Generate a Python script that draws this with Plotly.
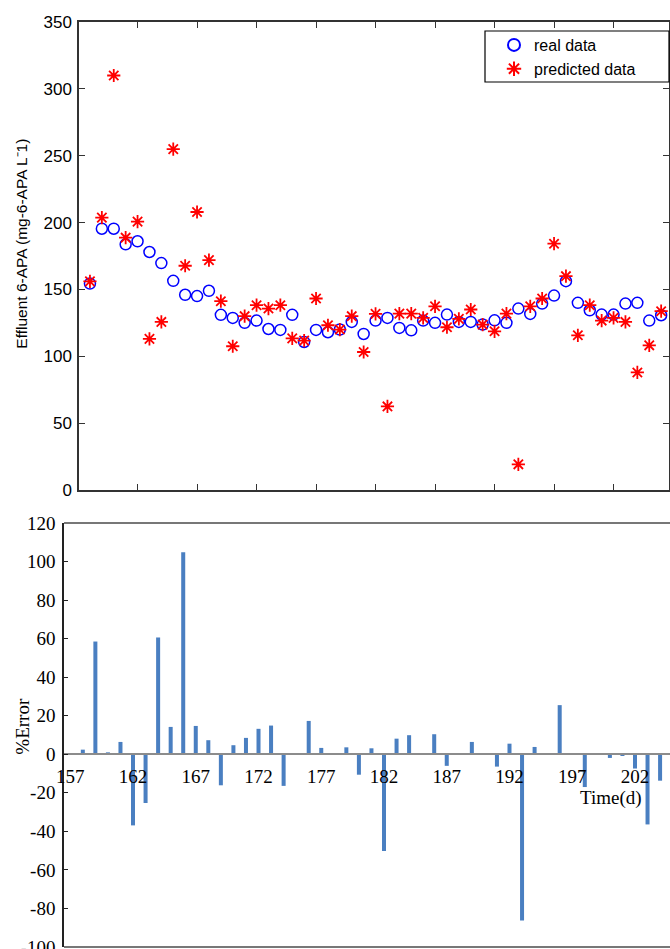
import plotly.graph_objects as go

# ---------------- data ----------------
days = list(range(157, 206))  # 49 days
real_data = [154.4, 195.4, 195.4, 183.7, 186.0, 178.0, 169.7, 156.4, 146.0, 145.0,
             149.0, 131.0, 128.7, 125.0, 126.7, 120.4, 119.7, 131.0, 110.7, 119.7,
             118.0, 120.0, 125.7, 116.7, 126.7, 128.7, 121.2, 119.4, 126.7, 125.0,
             131.2, 125.7, 125.7, 123.7, 126.9, 125.0, 135.7, 131.7, 139.4, 145.4,
             156.2, 140.0, 134.4, 131.2, 131.2, 139.4, 140.0, 126.7, 130.7]
predicted_data = [156.0, 203.7, 310.0, 188.7, 200.7, 113.0, 125.7, 254.9, 167.7, 207.9,
                  171.9, 141.2, 107.5, 130.0, 138.2, 135.7, 138.2, 113.4, 111.7, 143.2,
                  123.2, 120.0, 130.0, 103.2, 131.7, 62.5, 131.9, 131.9, 128.7, 137.4,
                  121.7, 128.0, 135.0, 123.7, 118.7, 131.9, 19.2, 137.4, 143.2, 184.2,
                  159.9, 115.7, 138.2, 126.7, 128.7, 125.7, 87.9, 108.2, 133.7]

err_days = list(range(157, 205))  # 48 visible categories
pct_error = [0.3, 2.4, 58.5, 1.0, 6.4, -36.9, -25.3, 60.6, 14.2, 104.8,
             14.7, 7.3, -16.1, 4.7, 8.5, 13.2, 14.9, -16.4, 0.0, 17.3,
             3.3, 0.2, 3.6, -10.6, 3.1, -50.2, 8.1, 9.9, 0.4, 10.4,
             -6.0, 0.3, 6.4, 0.2, -6.4, 5.5, -86.2, 3.8, 0.3, 25.5,
             0.3, -17.0, 0.2, -1.9, -0.9, -7.4, -36.4, -13.7]
err_ticks = [157, 162, 167, 172, 177, 182, 187, 192, 197, 202]
err_yticks = [-100, -80, -60, -40, -20, 0, 20, 40, 60, 80, 100, 120]

# ---------------- layout geometry ----------------
W, H = 670, 949
top_dom_y = [1 - 490 / H, 1 - 22 / H]
bot_dom_y = [1 - 947 / H, 1 - 523 / H]
top_dom_x = [79 / W, 669 / W]
bot_dom_x = [64 / W, 1.0]
bot_range = [-100, 120]
zero_pos = bot_dom_y[0] + (0 - bot_range[0]) / (bot_range[1] - bot_range[0]) * (bot_dom_y[1] - bot_dom_y[0])

sans = "Liberation Sans, Arial, sans-serif"
serif = "Liberation Serif, Times New Roman, serif"

fig = go.Figure()

fig.add_trace(go.Scatter(
    x=days, y=real_data, mode="markers", name="real data",
    marker=dict(symbol="circle-open", size=11, color="#0000ff", line=dict(width=1.5, color="#0000ff")),
    xaxis="x", yaxis="y"))
fig.add_trace(go.Scatter(
    x=days, y=predicted_data, mode="markers", name="predicted data",
    marker=dict(symbol="asterisk-open", size=11, color="#ff0000", line=dict(width=1.8, color="#ff0000")),
    xaxis="x", yaxis="y"))

fig.add_trace(go.Bar(
    x=err_days, y=pct_error, marker=dict(color="#4a7fc1", line=dict(width=0)),
    width=0.32, showlegend=False, xaxis="x2", yaxis="y2"))

fig.update_layout(
    template="none",
    width=W, height=H, autosize=False,
    margin=dict(l=0, r=0, t=0, b=0, pad=0),
    paper_bgcolor="white", plot_bgcolor="white",
    showlegend=True,
    legend=dict(x=494 / W, y=1 - 28 / H, xanchor="left", yanchor="top",
                bgcolor="rgba(0,0,0,0)", borderwidth=0,
                font=dict(family=sans, size=16, color="black"),
                itemsizing="constant", tracegroupgap=0),
    xaxis=dict(domain=top_dom_x, anchor="y", range=[156.08, 205.66], automargin=False,
               tick0=156, dtick=5, ticks="inside", ticklen=6, tickcolor="#333",
               showticklabels=False, showgrid=False, zeroline=False,
               showline=True, mirror="ticks", linecolor="#333", linewidth=1.5),
    yaxis=dict(domain=top_dom_y, anchor="x", range=[0, 350], tick0=0, dtick=50, automargin=False,
               ticks="inside", ticklen=6, tickcolor="#333", ticklabelstandoff=2,
               ticklabeloverflow="allow",
               showgrid=False, zeroline=False,
               showline=True, mirror="ticks", linecolor="#333", linewidth=1.5,
               tickfont=dict(family=sans, size=17, color="black")),
    xaxis2=dict(domain=bot_dom_x, anchor="free", position=zero_pos, automargin=False,
                range=[156.5, 204.79], tickmode="array", tickvals=err_ticks,
                ticktext=[str(t) for t in err_ticks], ticks="", ticklabelstandoff=5,
                ticklabeloverflow="allow",
                showgrid=False, zeroline=False,
                showline=True, linecolor="#8c8c8c", linewidth=1.5,
                tickfont=dict(family=serif, size=19, color="black")),
    yaxis2=dict(domain=bot_dom_y, anchor="x2", range=bot_range, automargin=False,
                tickmode="array", tickvals=err_yticks,
                ticktext=[str(t) for t in err_yticks],
                ticks="inside", ticklen=4, tickcolor="#222", ticklabelstandoff=3,
                ticklabeloverflow="allow",
                showgrid=False, zeroline=False,
                showline=True, linecolor="#222", linewidth=1.5,
                tickfont=dict(family=serif, size=19, color="black")),
)

# legend frame
fig.add_shape(type="rect", xref="paper", yref="paper",
              x0=485 / W, x1=669 / W, y0=1 - 82 / H, y1=1 - 31 / H,
              line=dict(color="black", width=1.2), fillcolor="rgba(0,0,0,0)", layer="above")
# bottom chart frame lines (top and bottom)
fig.add_shape(type="line", xref="x2 domain", yref="y2 domain", x0=0, x1=1, y0=1, y1=1,
              line=dict(color="#777", width=2))
fig.add_shape(type="line", xref="x2 domain", yref="y2 domain", x0=0, x1=1, y0=0, y1=0,
              line=dict(color="#777", width=2))

# axis titles
fig.add_annotation(text="Effluent 6-APA (mg-6-APA L⁻1)", xref="paper", yref="paper",
                   x=21.7 / W, y=1 - 244 / H, textangle=-90, showarrow=False,
                   font=dict(family=sans, size=15.5, color="black"), xanchor="center", yanchor="middle")
fig.add_annotation(text="%Error", xref="paper", yref="paper",
                   x=21.7 / W, y=1 - 726 / H, textangle=-90, showarrow=False,
                   font=dict(family=serif, size=19, color="black"), xanchor="center", yanchor="middle")
fig.add_annotation(text="Time(d)", xref="paper", yref="paper",
                   x=611 / W, y=1 - 798 / H, showarrow=False,
                   font=dict(family=serif, size=19, color="black"), xanchor="center", yanchor="middle")

fig.write_html("out.html")
